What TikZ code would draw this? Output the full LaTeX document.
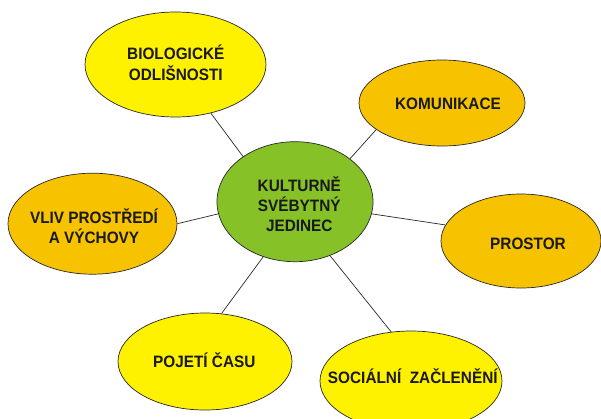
\documentclass[tikz,border=0pt]{standalone}
\usepackage{fontspec}
\setmainfont{Liberation Sans}[FakeStretch=0.93]
\usetikzlibrary{shapes.geometric}
\definecolor{yel}{RGB}{255,242,0}
\definecolor{org}{RGB}{247,195,0}
\definecolor{grn}{RGB}{134,193,39}
\definecolor{edge}{RGB}{40,40,40}
\newcommand{\mlines}[1]{\begin{tabular}[t]{@{}c@{}}#1\end{tabular}}
\tikzset{
  blob/.style={ellipse, draw=edge, line width=0.7pt, inner sep=0pt},
  lbl/.style={anchor=base, inner sep=0pt, text=black!90,
    font=\bfseries\fontsize{16.5}{19.7}\selectfont},
  conn/.style={draw=edge, line width=0.7pt}
}
\begin{document}
\begin{tikzpicture}[x=1pt,y=-1pt]
\useasboundingbox (0,0) rectangle (601,418);
\clip (0,0) rectangle (601,418);
\fill[white] (0,0) rectangle (601,418);
% ellipses
\node[blob, fill=grn, minimum width=156pt, minimum height=120pt] (c) at (295,201.7) {};
\node[blob, fill=yel, minimum width=181pt, minimum height=105pt] (bio) at (175.5,64.5) {};
\node[blob, fill=org, minimum width=166pt, minimum height=86pt] (kom) at (442,103) {};
\node[blob, fill=org, minimum width=169pt, minimum height=101pt] (vliv) at (92.5,223.7) {};
\node[blob, fill=org, minimum width=160pt, minimum height=94pt] (pro) at (521,241) {};
\node[blob, fill=yel, minimum width=174pt, minimum height=97pt] (poj) at (205,361.5) {};
\node[blob, fill=yel, minimum width=182pt, minimum height=100pt] (soc) at (411,381) {};
% connectors
\draw[conn] (c.139) -- (bio.-54.6);
\draw[conn] (c.38.8) -- (kom.202);
\draw[conn] (c.189) -- (vliv.0.5);
\draw[conn] (c.-9.1) -- (pro.168.7);
\draw[conn] (c.240.8) -- (poj.71.6);
\draw[conn] (c.-57.5) -- (soc.112);
% labels
\node[lbl] (ct) at (299.3,191) {\mlines{KULTURNĚ\\SVÉBYTNÝ\\JEDINEC}};
\node[lbl] (biot) at (175.8,59.5) {\mlines{BIOLOGICKÉ\\ODLIŠNOSTI}};
\node[lbl] (komt) at (448,109.3) {KOMUNIKACE};
\node[lbl] (vlivt) at (94,223.3) {\mlines{VLIV PROSTŘEDÍ\\A VÝCHOVY}};
\node[lbl] (prot) at (528,249.3) {PROSTOR};
\node[lbl] (pojt) at (204.3,367.3) {POJETÍ ČASU};
\node[lbl] (soct) at (412.8,383.3) {SOCIÁLNÍ\ \ ZAČLENĚNÍ};
\end{tikzpicture}
\end{document}
